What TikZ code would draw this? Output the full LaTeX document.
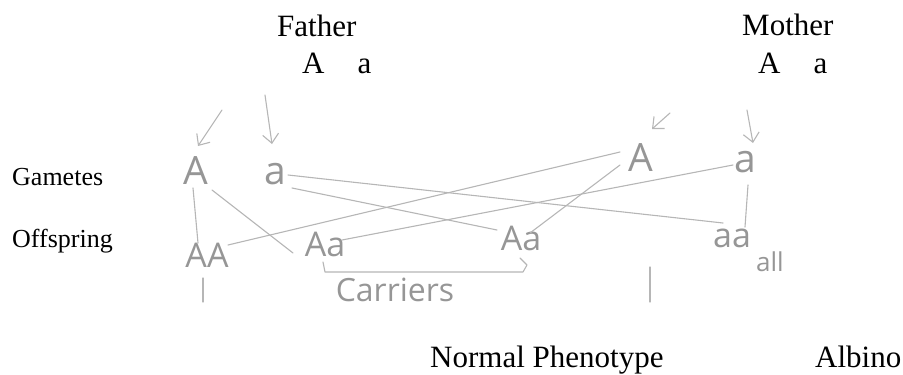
\documentclass[tikz,border=0pt]{standalone}
\usepackage{fontspec}
\setmainfont{Liberation Serif}
\newfontfamily\handfont{Open Sans}
\usetikzlibrary{arrows.meta}
\definecolor{pencil}{RGB}{150,150,150}
\definecolor{pencilline}{RGB}{182,182,182}
\begin{document}
\begin{tikzpicture}[x=1pt,y=-1pt,
  typed/.style={anchor=base west,inner sep=0pt,font=\fontsize{31}{37}\selectfont},
  side/.style={anchor=base west,inner sep=0pt,font=\fontsize{26}{31}\selectfont},
  gam/.style={inner sep=0pt,text=pencil,font=\handfont\fontsize{39}{44}\selectfont},
  off/.style={inner sep=0pt,text=pencil,font=\handfont\fontsize{34}{40}\selectfont},
  pen/.style={draw=pencilline,line width=1.1pt,line cap=round,line join=round},
  parrow/.style={pen,-{Straight Barb[length=9pt,width=16pt,line width=1.1pt]}}]
\useasboundingbox (0,0) rectangle (903,375);

% typed labels
\node[typed] (father) at (277,36) {Father};
\node[typed] (fgen) at (302,73) {A\hspace{33pt}a};
\node[typed] (mother) at (742,35) {Mother};
\node[typed] (mgen) at (758,73) {A\hspace{33pt}a};
\node[side] (gametes) at (12,185) {Gametes};
\node[side] (offspring) at (12,247) {Offspring};
\node[typed] (normal) at (430,367) {Normal Phenotype};
\node[typed] (albino) at (815,367) {Albino};

% handwritten gametes
\node[gam] (fA) at (196,171) {A};
\node[gam] (fa) at (275,174) {a};
\node[gam] (mA) at (641,158) {A};
\node[gam] (ma) at (745,162) {a};

% handwritten offspring
\node[off] (AA) at (207,255) {AA};
\node[off] (Aa1) at (325,244) {Aa};
\node[off] (Aa2) at (521,238) {Aa};
\node[off] (aa) at (732,238) {aa};
\node[off,font=\handfont\fontsize{26}{30}\selectfont] (all) at (770,262) {all};
\node[off,font=\handfont\fontsize{32}{38}\selectfont] (carriers) at (395,290) {Carriers};

% arrows into gametes
\coordinate (fAstart) at (222,110);
\coordinate (fastart) at (265,95);
\coordinate (mAstart) at (670,113);
\coordinate (mastart) at (747,110);
\draw[parrow] (fAstart) -- ([shift={(2,-25)}]fA.center);
\draw[parrow] (fastart) -- ([shift={(-3,-30)}]fa.center);
\draw[parrow] (mAstart) -- ([shift={(11,-29)}]mA.center);
\draw[parrow] (mastart) -- ([shift={(8,-19)}]ma.center);

% crosses
\draw[pen] ([shift={(-3,17)}]fA.center) -- ([shift={(-9,-12)}]AA.center);
\draw[pen] ([shift={(16,19)}]fA.center) -- ([shift={(-32,9)}]Aa1.center);
\draw[pen] ([shift={(13,1)}]fa.center) -- ([shift={(-9,-15)}]aa.center);
\draw[pen] ([shift={(17,14)}]fa.center) -- ([shift={(-24,-8)}]Aa2.center);
\draw[pen] ([shift={(-21,-6)}]mA.center) -- ([shift={(21,-10)}]AA.center);
\draw[pen] ([shift={(-21,7)}]mA.center) -- ([shift={(9,-5)}]Aa2.center);
\draw[pen] ([shift={(-12,3)}]ma.center) -- ([shift={(17,-4)}]Aa1.center);
\draw[pen] ([shift={(3,23)}]ma.center) -- ([shift={(13,-11)}]aa.center);

% carriers bracket
\draw[pen] ([shift={(-2,18)}]Aa1.center) -- ++(2,10)
  -- ([shift={(2,34)}]Aa2.center) -- ++(4,-7) -- ++(-7,-7);

% stubs towards phenotypes
\coordinate (s1a) at (203,278);
\coordinate (s1b) at (203,302);
\coordinate (s2a) at (650,267);
\coordinate (s2b) at (650,302);
\draw[pen] (s1a) -- (s1b);
\draw[pen] (s2a) -- (s2b);
\end{tikzpicture}
\end{document}
